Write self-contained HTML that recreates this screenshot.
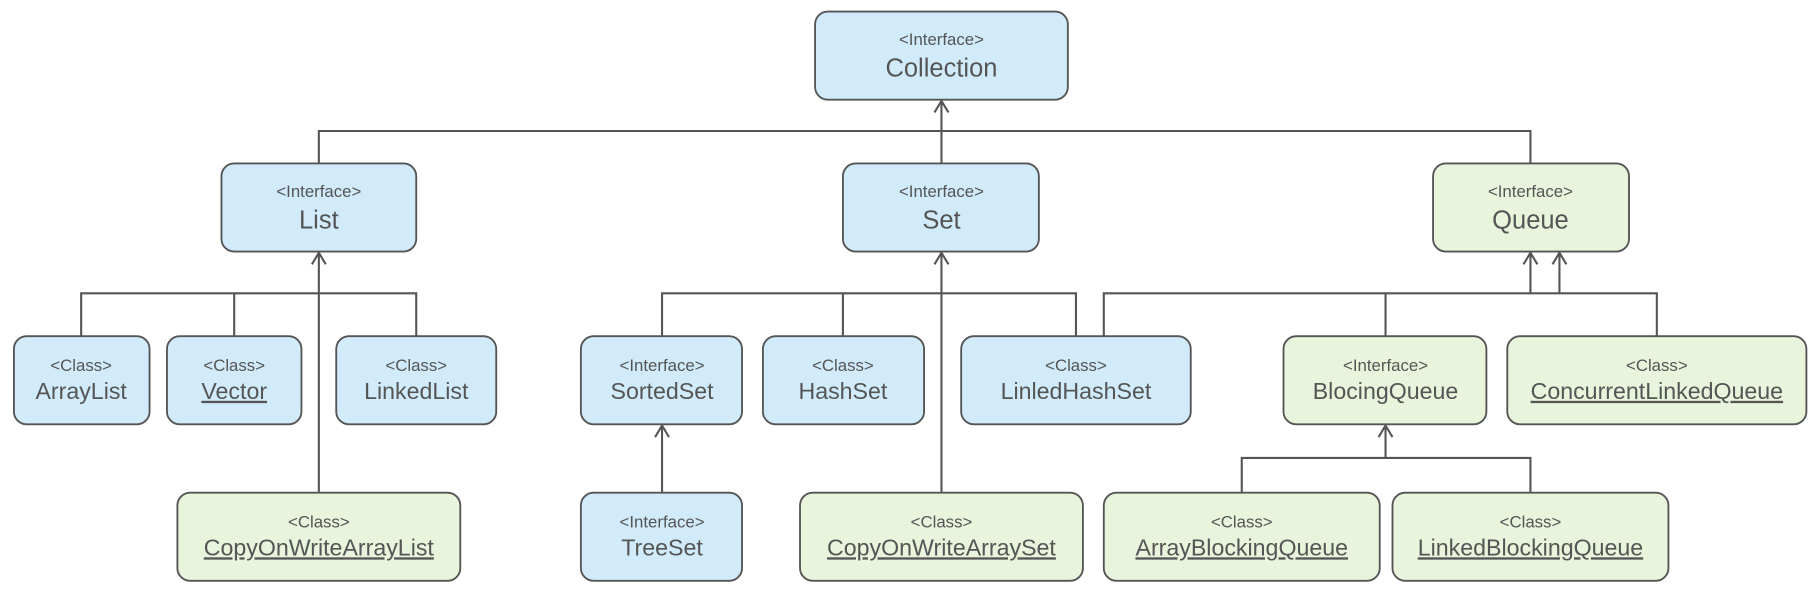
<!DOCTYPE html>
<html><head><meta charset="utf-8"><style>
html,body{margin:0;padding:0;background:#fff;}
svg{display:block;}
text{font-family:"Liberation Sans",sans-serif;fill:#555;text-anchor:middle;}
.s{font-size:14.5px}.b{font-size:22px}
.bl{fill:#d1ebfb;stroke:#555;stroke-width:1.6}
.gr{fill:#e8f4dc;stroke:#555;stroke-width:1.6}
.ln{stroke:#555;stroke-width:1.8;fill:none}
</style></head><body>
<svg width="1818" height="601" viewBox="0 0 1568 518.4" preserveAspectRatio="none">
<g class="ln">
<path d="M275 141V113H1320V141M812 141V87"/>
<path d="M806 97L812 87L818 97"/>
<path d="M70 290V253H359V290M202 253V290M275 425V218"/>
<path d="M269 228L275 218L281 228"/>
<path d="M571 290V253H928V290M727 253V290M812 425V218"/>
<path d="M806 228L812 218L818 228"/>
<path d="M571 425V367"/>
<path d="M565 377L571 367L577 377"/>
<path d="M952 290V253H1429V290M1195 253V290M1320 253V218M1345 253V218"/>
<path d="M1314 228L1320 218L1326 228M1339 228L1345 218L1351 228"/>
<path d="M1071 425V395H1320V425M1195 395V367"/>
<path d="M1189 377L1195 367L1201 377"/>
</g>
<rect class="bl" x="703" y="10" width="218" height="76" rx="11"/>
<text class="s" x="812" y="39">&lt;Interface&gt;</text><text class="b" x="812" y="66">Collection</text>
<rect class="bl" x="191" y="141" width="168" height="76" rx="11"/>
<text class="s" x="275" y="170">&lt;Interface&gt;</text><text class="b" x="275" y="197">List</text>
<rect class="bl" x="727" y="141" width="169" height="76" rx="11"/>
<text class="s" x="812" y="170">&lt;Interface&gt;</text><text class="b" x="812" y="197">Set</text>
<rect class="gr" x="1236" y="141" width="169" height="76" rx="11"/>
<text class="s" x="1320" y="170">&lt;Interface&gt;</text><text class="b" x="1320" y="197">Queue</text>

<rect class="bl" x="12" y="290" width="117" height="76" rx="11"/>
<text class="s" x="70" y="320">&lt;Class&gt;</text><text class="b" x="70" y="344" style="font-size:20px">ArrayList</text>
<rect class="bl" x="144" y="290" width="116" height="76" rx="11"/>
<text class="s" x="202" y="320">&lt;Class&gt;</text><text class="b" x="202" y="344" style="font-size:20px;text-decoration:underline">Vector</text>
<rect class="bl" x="290" y="290" width="138" height="76" rx="11"/>
<text class="s" x="359" y="320">&lt;Class&gt;</text><text class="b" x="359" y="344" style="font-size:20px">LinkedList</text>
<rect class="gr" x="153" y="425" width="244" height="76" rx="11"/>
<text class="s" x="275" y="455">&lt;Class&gt;</text><text class="b" x="275" y="479" style="font-size:20px;text-decoration:underline">CopyOnWriteArrayList</text>

<rect class="bl" x="501" y="290" width="139" height="76" rx="11"/>
<text class="s" x="571" y="320">&lt;Interface&gt;</text><text class="b" x="571" y="344" style="font-size:20px">SortedSet</text>
<rect class="bl" x="658" y="290" width="139" height="76" rx="11"/>
<text class="s" x="727" y="320">&lt;Class&gt;</text><text class="b" x="727" y="344" style="font-size:20px">HashSet</text>
<rect class="bl" x="829" y="290" width="198" height="76" rx="11"/>
<text class="s" x="928" y="320">&lt;Class&gt;</text><text class="b" x="928" y="344" style="font-size:20px">LinledHashSet</text>
<rect class="bl" x="501" y="425" width="139" height="76" rx="11"/>
<text class="s" x="571" y="455">&lt;Interface&gt;</text><text class="b" x="571" y="479" style="font-size:20px">TreeSet</text>
<rect class="gr" x="690" y="425" width="244" height="76" rx="11"/>
<text class="s" x="812" y="455">&lt;Class&gt;</text><text class="b" x="812" y="479" style="font-size:20px;text-decoration:underline">CopyOnWriteArraySet</text>

<rect class="gr" x="1107" y="290" width="175" height="76" rx="11"/>
<text class="s" x="1195" y="320">&lt;Interface&gt;</text><text class="b" x="1195" y="344" style="font-size:20px">BlocingQueue</text>
<rect class="gr" x="1300" y="290" width="258" height="76" rx="11"/>
<text class="s" x="1429" y="320">&lt;Class&gt;</text><text class="b" x="1429" y="344" style="font-size:20px;text-decoration:underline">ConcurrentLinkedQueue</text>
<rect class="gr" x="952" y="425" width="238" height="76" rx="11"/>
<text class="s" x="1071" y="455">&lt;Class&gt;</text><text class="b" x="1071" y="479" style="font-size:20px;text-decoration:underline">ArrayBlockingQueue</text>
<rect class="gr" x="1201" y="425" width="238" height="76" rx="11"/>
<text class="s" x="1320" y="455">&lt;Class&gt;</text><text class="b" x="1320" y="479" style="font-size:20px;text-decoration:underline">LinkedBlockingQueue</text>
</svg>
</body></html>
